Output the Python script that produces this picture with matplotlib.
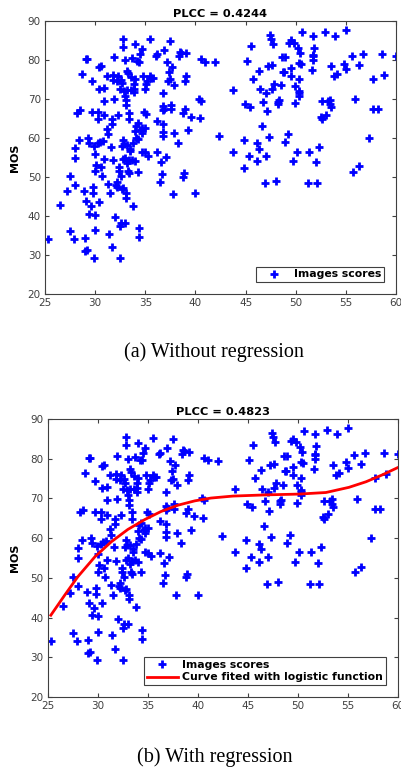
import matplotlib
matplotlib.use("Agg")
from matplotlib import pyplot as plt

# image scores (x, MOS) - same points in both panels
score_x = [25.3, 26.5, 27.5, 27.9, 27.2, 27.5, 28.0, 28.0, 28.0, 28.4, 28.2, 28.5, 28.7, 29.1, 29.2,
           28.9, 29.1, 29.0, 29.0, 29.2, 29.4, 29.3, 29.4, 29.6, 29.8, 29.8, 29.7, 29.7, 29.9, 30.0,
           30.0, 30.1, 30.0, 30.0, 29.9, 30.3, 30.3, 30.3, 30.4, 30.6, 30.4, 30.4, 30.6, 30.7, 30.5,
           30.8, 30.9, 30.9, 30.9, 30.9, 31.2, 31.2, 31.3, 31.3, 31.4, 31.5, 31.6, 31.7, 31.7, 31.7,
           31.8, 31.8, 31.9, 31.9, 31.8, 32.0, 32.1, 32.2, 32.2, 32.2, 32.3, 32.3, 32.4, 32.4, 32.5,
           32.5, 32.6, 32.5, 32.6, 32.7, 32.7, 32.7, 32.6, 32.8, 32.8, 32.9, 33.0, 33.0, 32.8, 32.8,
           33.0, 33.1, 33.1, 32.8, 33.0, 32.9, 33.1, 33.1, 33.2, 33.2, 33.3, 33.2, 33.3, 33.4, 33.2,
           33.4, 33.4, 33.4, 33.5, 33.5, 33.6, 33.6, 33.7, 33.8, 33.7, 33.8, 33.9, 33.9, 33.9, 34.0,
           34.0, 34.0, 34.0, 34.1, 34.1, 34.2, 34.3, 34.3, 34.3, 34.4, 34.4, 34.4, 34.5, 34.6, 34.7,
           34.7, 34.7, 34.7, 34.8, 34.9, 35.0, 35.0, 35.0, 35.1, 35.1, 35.2, 35.3, 35.5, 35.5, 35.6,
           35.8, 36.1, 36.2, 36.2, 36.2, 36.6, 36.5, 36.7, 36.8, 36.8, 36.8, 36.8, 36.8, 36.9, 36.8,
           36.9, 37.1, 37.2, 37.3, 37.4, 37.5, 37.5, 37.6, 37.6, 37.7, 37.8, 37.9, 37.9, 38.3, 38.4,
           38.5, 38.6, 38.8, 38.8, 38.9, 39.0, 39.0, 39.1, 39.1, 39.3, 39.6, 40.0, 40.4, 40.5, 40.6,
           40.6, 41.0, 42.0, 42.4, 43.7, 43.7,
           44.8, 44.8, 44.9, 45.1, 45.3, 45.4, 45.5, 45.7, 46.1, 46.1, 46.3, 46.3, 46.4, 46.6, 46.7,
           46.9, 47.0, 47.0, 47.1, 47.2, 47.3, 47.4, 47.5, 47.6, 47.7, 47.6, 47.8, 48.0, 48.2, 48.2,
           48.3, 48.5, 48.6, 48.7, 48.8, 48.9, 48.9, 49.2, 49.3, 49.5, 49.5, 49.5, 49.7, 49.8, 49.9,
           49.9, 50.1, 50.2, 50.3, 50.3, 50.3, 50.3, 50.3, 50.4, 50.5, 50.6, 51.3, 51.2, 51.7, 51.6,
           51.7, 51.7, 51.7, 51.8, 52.0, 52.1, 52.3, 52.5, 52.6, 52.6, 52.9, 53.0, 53.2, 53.4, 53.4,
           53.5, 53.5, 53.8, 53.9, 54.1, 54.8, 55.0, 55.0, 55.6, 55.7, 55.9, 56.3, 56.3, 56.7, 57.3,
           57.7, 57.7, 58.2, 58.6, 58.8, 60.0]
score_y = [34.2, 42.8, 36.1, 34.0, 46.3, 50.2, 47.9, 54.9, 57.4, 59.6, 66.5, 67.2, 76.4, 80.3, 80.3,
           46.4, 43.8, 34.4, 31.0, 31.4, 58.7, 60.0, 40.6, 42.5, 46.0, 47.5, 66.7, 74.5, 58.0, 56.0,
           51.5, 53.2, 40.3, 36.4, 29.3, 66.7, 64.9, 58.6, 78.1, 78.5, 72.6, 43.7, 52.6, 50.3, 59.1,
           59.3, 72.8, 69.6, 65.9, 54.5, 75.8, 62.2, 60.9, 48.2, 35.5, 45.8, 57.8, 64.9, 63.6, 32.1,
           74.8, 76.2, 69.9, 80.7, 54.3, 39.7, 47.9, 48.6, 47.5, 74.7, 76.0, 65.8, 51.6, 52.5, 29.2,
           37.4, 38.3, 72.5, 74.8, 74.0, 57.9, 46.9, 50.2, 85.5, 83.4, 72.1, 70.8, 79.9, 59.5, 54.5,
           54.9, 45.8, 44.6, 47.1, 38.3, 58.4, 69.7, 68.4, 72.3, 77.3, 76.6, 53.5, 51.6, 50.9, 58.3,
           54.3, 66.5, 64.8, 57.3, 56.6, 72.3, 75.6, 80.4, 58.6, 54.4, 42.6, 73.8, 72.6, 71.7, 84.0,
           75.1, 61.9, 54.1, 60.1, 63.2, 79.7, 63.8, 59.7, 51.4, 36.9, 34.6, 79.6, 81.5, 62.1, 82.7,
           61.4, 56.5, 62.5, 76.0, 66.6, 62.5, 72.5, 56.3, 66.1, 73.8, 74.6, 55.5, 85.3, 75.8, 75.5,
           75.5, 81.1, 81.5, 56.3, 64.4, 53.8, 48.8, 50.7, 71.6, 63.5, 61.6, 60.4, 68.2, 82.6, 67.2,
           67.5, 55.2, 79.5, 74.6, 77.0, 75.0, 84.9, 68.5, 67.4, 78.3, 45.6, 61.2, 73.5, 58.8, 81.1,
           82.1, 81.9, 66.3, 50.1, 51.1, 67.4, 74.7, 75.9, 81.7, 62.1, 65.5, 45.8, 70.0, 65.0, 69.6,
           80.3, 79.6, 79.5, 60.6, 56.5, 72.4,
           59.5, 52.4, 68.7, 79.7, 55.3, 67.9, 83.5, 75.2, 54.0, 58.6, 57.3, 77.2, 72.5, 63.0, 69.3,
           48.5, 55.3, 71.6, 66.9, 78.5, 60.3, 86.5, 85.4, 78.7, 84.1, 72.6, 73.8, 48.9, 68.7, 69.3,
           69.7, 73.5, 80.8, 76.9, 76.8, 80.8, 58.9, 60.9, 84.4, 85.0, 76.0, 78.0, 54.0, 84.3, 68.9,
           73.3, 56.5, 83.0, 79.2, 75.1, 70.8, 71.5, 72.1, 81.7, 78.9, 87.1, 56.5, 48.5, 86.2, 77.4,
           79.9, 80.9, 81.2, 83.2, 53.8, 48.5, 57.8, 65.3, 64.8, 69.4, 87.2, 66.0, 69.4, 68.7, 69.8,
           78.5, 67.9, 75.9, 86.2, 76.4, 79.1, 87.7, 77.7, 80.9, 51.4, 69.9, 78.6, 52.8, 81.5, 60.0,
           75.2, 67.4, 67.4, 81.5, 76.1, 81.1]

# logistic fit curve
fit_x = [25.3, 26.7, 28.0, 29.7, 31.35, 33.0, 34.7, 36.3, 38.0, 39.7, 41.3, 43.5, 46.8, 50.1,
         52.8, 55.1, 56.8, 58.4, 60.0]
fit_y = [40.6, 45.7, 50.3, 55.3, 59.1, 62.2, 64.7, 66.7, 68.3, 69.4, 70.1, 70.6, 70.9, 71.1,
         71.5, 72.8, 74.2, 75.9, 77.8]

titles = ["PLCC = 0.4244", "PLCC = 0.4823"]
captions = ["(a) Without regression", "(b) With regression"]

fig = plt.figure(figsize=(4.02, 7.69), dpi=100)
ax1 = fig.add_axes([0.112, 0.6177, 0.873, 0.355])
ax2 = fig.add_axes([0.119, 0.0936, 0.871, 0.3615])

for ax, title, lx in zip([ax1, ax2], titles, [-0.071, -0.08]):
    ax.plot(score_x, score_y, '+', color='blue', markersize=5.5, markeredgewidth=2,
            label='Images scores')
    ax.set_xlim(25, 60)
    ax.set_ylim(20, 90)
    ax.set_xticks(range(25, 61, 5))
    ax.set_yticks(range(20, 91, 10))
    ax.tick_params(direction='in', length=3, width=0.8, top=True, right=True,
                   labelsize=7.5, colors='#404040', pad=3)
    for s in ax.spines.values():
        s.set_color('#404040')
        s.set_linewidth(0.8)
    ax.set_title(title, fontsize=8.2, fontweight='bold', pad=3)
    ax.set_ylabel('MOS', fontsize=8, fontweight='bold')
    ax.yaxis.set_label_coords(lx, 0.5)

ax2.plot(fit_x, fit_y, '-', color='red', linewidth=2,
         label='Curve fited with logistic function')

for ax in [ax1, ax2]:
    leg = ax.legend(loc='lower right', fancybox=False, framealpha=1,
                    borderaxespad=1.1, handlelength=2.9, handletextpad=0.4,
                    borderpad=0.25, labelspacing=0.25,
                    prop={'weight': 'bold', 'size': 7.8})
    leg.get_frame().set_edgecolor('#404040')
    leg.get_frame().set_linewidth(0.8)

fig.text(0.532, 1 - 352 / 769, captions[0], ha='center', va='center',
         fontsize=14.5, family='Liberation Serif')
fig.text(0.535, 1 - 757 / 769, captions[1], ha='center', va='center',
         fontsize=14.5, family='Liberation Serif')

fig.savefig('out.png', dpi=100)
